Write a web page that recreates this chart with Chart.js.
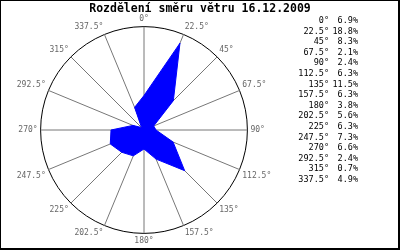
<!DOCTYPE html>
<html>
<head>
<meta charset="utf-8">
<script src="https://cdn.jsdelivr.net/npm/chart.js@4/dist/chart.umd.min.js"></script>
<style>
html,body{margin:0;padding:0;background:#fff;}
canvas{display:block;}
</style>
</head>
<body>
<canvas id="c" width="400" height="250"></canvas>
<script>
const titleText = "Rozdělení směru větru 16.12.2009";
const directions = ["0°","22.5°","45°","67.5°","90°","112.5°","135°","157.5°","180°","202.5°","225°","247.5°","270°","292.5°","315°","337.5°"];
const percents = [6.9,18.8,8.3,2.1,2.4,6.3,11.5,6.3,3.8,5.6,6.3,7.3,6.6,2.4,0.7,4.9];

const mono = "'DejaVu Sans Mono', 'Liberation Mono', monospace";

const framePlugin = {
  id: 'frame',
  afterDraw(chart) {
    const ctx = chart.ctx;
    ctx.save();
    // title
    ctx.fillStyle = '#000';
    ctx.font = "bold 11.5px " + mono;
    ctx.textAlign = 'center';
    ctx.textBaseline = 'middle';
    ctx.fillText(titleText, 200, 9.5);
    // value list
    ctx.font = "8.5px " + mono;
    ctx.textAlign = 'right';
    for (let i = 0; i < directions.length; i++) {
      const y = 20.7 + i * 10.6;
      ctx.fillText(directions[i], 329, y);
      ctx.fillText(percents[i].toFixed(1) + '%', 358, y);
    }
    // border
    ctx.fillRect(0, 0, 400, 1);
    ctx.fillRect(0, 0, 1, 250);
    ctx.fillRect(398, 0, 2, 250);
    ctx.fillRect(0, 248, 400, 2);
    ctx.restore();
  }
};

new Chart(document.getElementById('c'), {
  type: 'radar',
  data: {
    labels: directions,
    datasets: [{
      data: percents,
      backgroundColor: '#0000ff',
      borderColor: '#0000ff',
      borderWidth: 1,
      fill: true,
      pointRadius: 0,
      tension: 0
    }]
  },
  options: {
    responsive: false,
    animation: false,
    devicePixelRatio: 1,
    layout: { padding: { top: 14, bottom: 3, left: 15, right: 125 } },
    plugins: { legend: { display: false }, title: { display: false }, tooltip: { enabled: false } },
    scales: {
      r: {
        min: 0,
        max: Math.max(...percents) * 1.1,
        afterBuildTicks: s => { s.ticks = [{ value: s.min }, { value: s.max }]; },
        ticks: { display: false },
        grid: { circular: true, color: '#000', lineWidth: 1 },
        angleLines: { color: '#777', lineWidth: 1 },
        pointLabels: { font: { family: mono, size: 8 }, color: '#666', padding: 3 }
      }
    }
  },
  plugins: [framePlugin]
});
</script>
</body>
</html>
